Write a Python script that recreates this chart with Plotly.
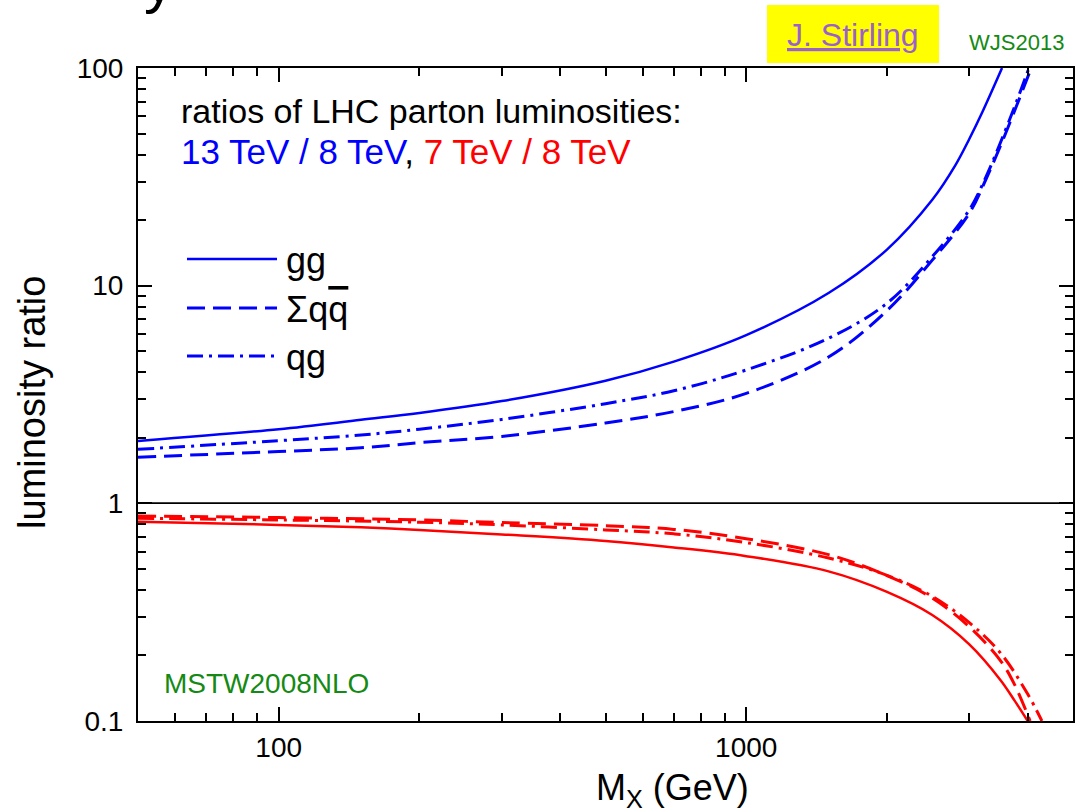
import math
import plotly.graph_objects as go

# ---------------- data ----------------
# 13 TeV / 8 TeV ratios (blue)
mass_gg_13 = [50, 100, 150, 200, 300, 500, 700, 1000, 1500, 2000, 2500, 2800, 3000, 3200, 3525]
ratio_gg_13 = [1.935, 2.19, 2.42, 2.60, 2.95, 3.66, 4.48, 5.93, 9.25, 14.65, 24.8, 35.7, 47.2, 62.8, 100.0]

mass_qq_13 = [50, 100, 150, 200, 300, 500, 700, 1000, 1500, 2000, 2500, 3000, 3250, 3500, 3776, 4070]
ratio_qq_13 = [1.63, 1.73, 1.80, 1.90, 2.03, 2.34, 2.64, 3.20, 4.70, 7.68, 13.1, 21.5, 30.5, 44.0, 66.0, 100.0]

mass_qg_13 = [50, 100, 150, 200, 300, 500, 700, 1000, 1500, 2000, 2500, 3000, 3250, 3500, 3776, 4025]
ratio_qg_13 = [1.77, 1.94, 2.06, 2.19, 2.43, 2.87, 3.29, 4.10, 5.73, 8.30, 13.6, 22.3, 31.3, 45.6, 69.0, 100.0]

# 7 TeV / 8 TeV ratios (red)
mass_gg_7 = [50, 100, 150, 200, 300, 500, 700, 1000, 1500, 2000, 2500, 3000, 3500, 3750, 4000]
ratio_gg_7 = [0.824, 0.796, 0.776, 0.755, 0.720, 0.672, 0.627, 0.572, 0.487, 0.392, 0.307, 0.225, 0.154, 0.124, 0.100]

mass_qq_7 = [50, 100, 200, 300, 500, 700, 1000, 1500, 2000, 2500, 3000, 3500, 3750, 4048]
ratio_qq_7 = [0.875, 0.860, 0.839, 0.816, 0.790, 0.759, 0.688, 0.581, 0.466, 0.367, 0.271, 0.189, 0.147, 0.100]

mass_qg_7 = [50, 100, 200, 300, 500, 700, 1000, 1500, 2000, 2500, 3000, 3500, 4000, 4290]
ratio_qg_7 = [0.854, 0.839, 0.819, 0.796, 0.755, 0.724, 0.660, 0.561, 0.467, 0.374, 0.283, 0.205, 0.133, 0.100]

unity_x = [50, 5000]
unity_y = [1, 1]

x_range = [50, 5000]
y_range = [0.1, 100]
x_tick_vals = [100, 1000]
x_tick_text = ["100", "1000"]
x_minor_vals = [60, 70, 80, 90, 200, 300, 400, 500, 600, 700, 800, 900, 2000, 3000, 4000]
y_tick_vals = [0.1, 1, 10, 100]
y_tick_text = ["0.1", "1", "10", "100"]
y_minor_vals = [m * d for d in (0.1, 1, 10) for m in range(2, 10)]

legend_labels = ["gg", "Σq<span style=\"text-decoration:overline\">q</span>", "qg"]

# ---------------- layout helpers ----------------
W, H = 1076, 812
ML, MR, MT, MB = 138, 3, 68, 91
PW, PH = W - ML - MR, H - MT - MB


def px(x):
    return (x - ML) / PW


def py(y):
    return 1 - (y - MT) / PH


FONT = "Liberation Sans, Arial, Helvetica, sans-serif"
BLUE = "#0000FF"
RED = "#FF0000"
GREEN = "#148A14"
PURPLE = "#9B61CB"
DASH = "18px,8px"
DASHDOT = "16px,6px,3px,6px"
LW_SOLID = 2.5
LW_DASH = 3.0

fig = go.Figure()

series = [
    (mass_gg_13, ratio_gg_13, BLUE, "solid", "gg 13/8"),
    (mass_qq_13, ratio_qq_13, BLUE, DASH, "qqbar 13/8"),
    (mass_qg_13, ratio_qg_13, BLUE, DASHDOT, "qg 13/8"),
    (mass_gg_7, ratio_gg_7, RED, "solid", "gg 7/8"),
    (mass_qq_7, ratio_qq_7, RED, DASH, "qqbar 7/8"),
    (mass_qg_7, ratio_qg_7, RED, DASHDOT, "qg 7/8"),
]
for xs, ys, col, dash, nm in series:
    fig.add_trace(go.Scatter(
        x=xs, y=ys, mode="lines", name=nm, showlegend=False,
        line=dict(color=col, width=LW_SOLID if dash == "solid" else LW_DASH,
                  dash=dash, shape="spline", smoothing=1.0),
        hoverinfo="skip",
    ))

fig.add_trace(go.Scatter(
    x=unity_x, y=unity_y, mode="lines", showlegend=False, hoverinfo="skip",
    line=dict(color="black", width=1.5),
))
# same line on the mirrored (top/right) axes, so those axes get drawn
fig.add_trace(go.Scatter(
    x=unity_x, y=unity_y, mode="lines", showlegend=False, hoverinfo="skip",
    xaxis="x2", yaxis="y2", line=dict(color="black", width=1.5),
))

axis_common = dict(
    type="log", showgrid=False, zeroline=False,
    showline=True, linewidth=2, linecolor="black",
    ticks="inside", ticklen=14, tickwidth=2, tickcolor="black",
    tickfont=dict(family=FONT, size=28, color="black"),
    tickmode="array",
)
xr = [math.log10(x_range[0]), math.log10(x_range[1])]
yr = [math.log10(y_range[0]), math.log10(y_range[1])]
xminor = dict(tickmode="array", tickvals=x_minor_vals, ticks="inside",
              ticklen=8, tickwidth=2, tickcolor="black", showgrid=False)
yminor = dict(tickmode="array", tickvals=y_minor_vals, ticks="inside",
              ticklen=8, tickwidth=2, tickcolor="black", showgrid=False)

fig.update_layout(
    xaxis=dict(**axis_common, range=xr, tickvals=x_tick_vals, ticktext=x_tick_text,
               ticklabelstandoff=0, minor=xminor),
    yaxis=dict(**axis_common, range=yr, tickvals=y_tick_vals, ticktext=y_tick_text,
               ticklabelstandoff=7, minor=yminor),
    xaxis2=dict(**axis_common, range=xr, tickvals=x_tick_vals, showticklabels=False,
                overlaying="x", side="top", anchor="y2", minor=xminor),
    yaxis2=dict(**axis_common, range=yr, tickvals=y_tick_vals, showticklabels=False,
                overlaying="y", side="right", anchor="x2", minor=yminor),
)

# legend (drawn by hand, like the original)
legend_rows = [(259, "solid"), (308, DASH), (356, DASHDOT)]
shapes = []
annotations = []
for (yy, dash), lab in zip(legend_rows, legend_labels):
    shapes.append(dict(type="line", xref="paper", yref="paper",
                       x0=px(187), x1=px(277), y0=py(yy), y1=py(yy),
                       line=dict(color=BLUE, width=LW_SOLID if dash == "solid" else LW_DASH,
                                 dash=dash)))
    annotations.append(dict(text=lab, xref="paper", yref="paper",
                            x=px(284), y=py(yy + 1.5), xanchor="left", yanchor="middle",
                            showarrow=False, font=dict(family=FONT, size=36, color="black")))

# yellow box behind "J. Stirling"
shapes.append(dict(type="rect", xref="paper", yref="paper",
                   x0=px(767), x1=px(939), y0=py(63), y1=py(5),
                   fillcolor="#FFFF00", line=dict(width=0), layer="below"))

annotations += [
    dict(text="ratios of LHC parton luminosities:", xref="paper", yref="paper",
         x=px(179), y=py(111.5), xanchor="left", yanchor="middle", showarrow=False,
         font=dict(family=FONT, size=34, color="black")),
    dict(text="<span style=\"color:#0000FF\">13 TeV / 8 TeV</span>, "
              "<span style=\"color:#FF0000\">7 TeV / 8 TeV</span>",
         xref="paper", yref="paper",
         x=px(179), y=py(151.5), xanchor="left", yanchor="middle", showarrow=False,
         font=dict(family=FONT, size=35, color="black")),
    dict(text="MSTW2008NLO", xref="paper", yref="paper",
         x=px(162), y=py(683), xanchor="left", yanchor="middle", showarrow=False,
         font=dict(family=FONT, size=28, color=GREEN)),
    dict(text="<u>J. Stirling</u>", xref="paper", yref="paper",
         x=px(853), y=py(35), xanchor="center", yanchor="middle", showarrow=False,
         font=dict(family=FONT, size=32, color=PURPLE)),
    dict(text="WJS2013", xref="paper", yref="paper",
         x=px(1016), y=py(43), xanchor="center", yanchor="middle", showarrow=False,
         font=dict(family=FONT, size=22, color=GREEN)),
    dict(text="luminosity ratio", xref="paper", yref="paper",
         x=px(32), y=py(403), xanchor="center", yanchor="middle", textangle=-90,
         showarrow=False, font=dict(family=FONT, size=38, color="black")),
    dict(text="M<sub>X</sub> (GeV)", xref="paper", yref="paper",
         x=px(672), y=py(765), xanchor="center", yanchor="top",
         showarrow=False, font=dict(family=FONT, size=36, color="black")),
    dict(text="y", xref="paper", yref="paper",
         x=px(142), y=py(-54), xanchor="left", yanchor="top",
         showarrow=False, font=dict(family=FONT, size=60, color="black")),
]

fig.update_layout(
    width=W, height=H,
    margin=dict(l=ML, r=MR, t=MT, b=MB, pad=0),
    paper_bgcolor="white", plot_bgcolor="white",
    font=dict(family=FONT, color="black"),
    showlegend=False,
    shapes=shapes,
    annotations=annotations,
)

fig.write_html("out.html", config={"displayModeBar": False},
               post_script="document.body.style.margin='0px';")
